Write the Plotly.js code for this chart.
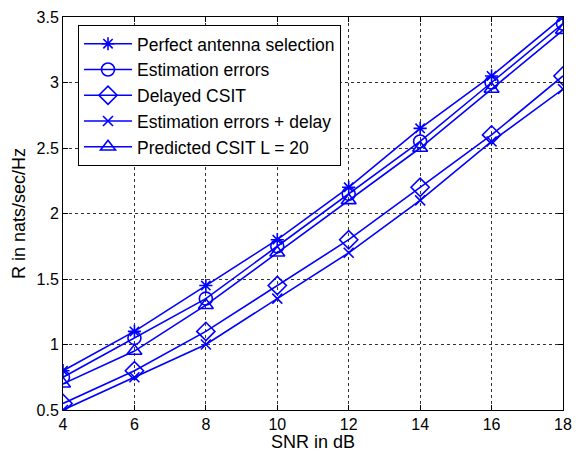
<!DOCTYPE html>
<html>
<head>
<meta charset="utf-8">
<script src="https://cdn.plot.ly/plotly-3.0.1.min.js"></script>
<style>html,body{margin:0;padding:0;background:#fff;}</style>
</head>
<body>
<div id="chart" style="width:581px;height:452px;"></div>
<script>
const snr = [4, 6, 8, 10, 12, 14, 16, 18];
const perfect = [0.8, 1.1, 1.45, 1.8, 2.2, 2.65, 3.05, 3.5];
const estErrors = [0.75, 1.05, 1.35, 1.75, 2.15, 2.55, 3.0, 3.45];
const delayed = [0.55, 0.8, 1.1, 1.45, 1.8, 2.2, 2.6, 3.05];
const estDelay = [0.5, 0.75, 1.0, 1.35, 1.7, 2.1, 2.55, 2.95];
const predicted = [0.7, 0.95, 1.3, 1.7, 2.1, 2.5, 2.95, 3.4];
const names = ["Perfect antenna selection", "Estimation errors", "Delayed CSIT", "Estimation errors + delay", "Predicted CSIT L = 20"];
const yTicks = [0.5, 1, 1.5, 2, 2.5, 3, 3.5];
const xTicks = [4, 6, 8, 10, 12, 14, 16, 18];

const blue = "#0000ff";
const FONT = "Liberation Sans, Arial, Helvetica, sans-serif";
const series = [
  {y: perfect, sym: "asterisk-open", size: 11},
  {y: estErrors, sym: "circle-open", size: 13},
  {y: delayed, sym: "diamond-open", size: 14},
  {y: estDelay, sym: "x-thin-open", size: 10},
  {y: predicted, sym: "triangle-up-open", size: 13}
];
const traces = series.map((s, i) => ({
  x: snr, y: s.y, name: names[i], type: "scatter", mode: "lines+markers",
  line: {color: blue, width: 1.6},
  marker: {symbol: s.sym, size: s.size, color: blue, line: {color: blue, width: 1.6}}
}));

const axisCommon = {
  showline: true, linecolor: "#000", linewidth: 1, mirror: "ticks",
  ticks: "inside", ticklen: 5, tickcolor: "#000",
  showgrid: true, gridcolor: "#333", griddash: "dot", gridwidth: 1,
  zeroline: false,
  tickfont: {family: FONT, size: 16, color: "#000"}
};

const layout = {
  width: 581, height: 452,
  margin: {l: 63, r: 18, t: 17, b: 42},
  paper_bgcolor: "#fff", plot_bgcolor: "#fff",
  font: {family: FONT, color: "#000"},
  xaxis: Object.assign({}, axisCommon, {
    range: [4, 18], tickvals: xTicks,
    title: {text: "SNR in dB", font: {size: 18, color: "#000", family: FONT}, standoff: 0}
  }),
  yaxis: Object.assign({}, axisCommon, {
    range: [0.5, 3.5], tickvals: yTicks, ticktext: yTicks.map(String),
    title: {text: "R in nats/sec/Hz", font: {size: 18, color: "#000", family: FONT}, standoff: 6}
  }),
  legend: {
    x: 0.03, y: 0.98, xanchor: "left", yanchor: "top",
    bgcolor: "#fff", bordercolor: "#000", borderwidth: 1,
    font: {size: 17.5, color: "#000", family: FONT},
    itemwidth: 48,
    tracegroupgap: 0
  },
  showlegend: true
};

Plotly.newPlot("chart", traces, layout, {displayModeBar: false, staticPlot: true});
</script>
</body>
</html>
